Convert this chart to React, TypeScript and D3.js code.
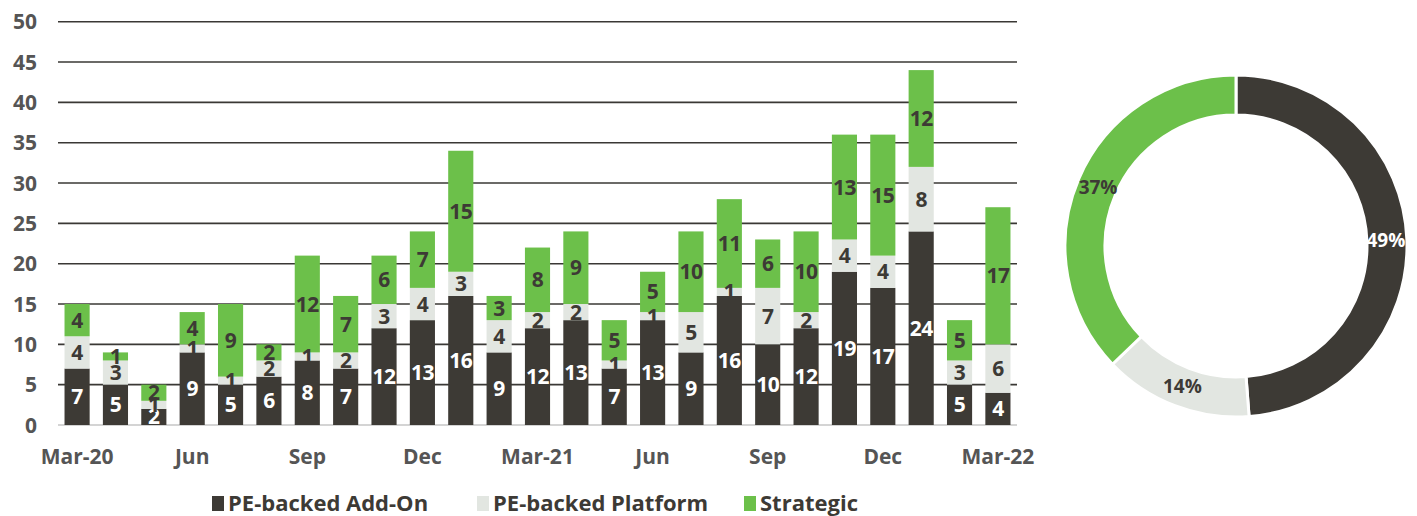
import React from "react";
import * as d3 from "d3";

const months = [
  "Mar-20","Apr-20","May-20","Jun-20","Jul-20","Aug-20","Sep-20","Oct-20","Nov-20","Dec-20","Jan-21","Feb-21",
  "Mar-21","Apr-21","May-21","Jun-21","Jul-21","Aug-21","Sep-21","Oct-21","Nov-21","Dec-21","Jan-22","Feb-22","Mar-22",
];
const tickLabels: Record<string, string> = {
  "Mar-20": "Mar-20", "Jun-20": "Jun", "Sep-20": "Sep", "Dec-20": "Dec",
  "Mar-21": "Mar-21", "Jun-21": "Jun", "Sep-21": "Sep", "Dec-21": "Dec", "Mar-22": "Mar-22",
};
const addOn = [7,5,2,9,5,6,8,7,12,13,16,9,12,13,7,13,9,16,10,12,19,17,24,5,4];
const platform = [4,3,1,1,1,2,1,2,3,4,3,4,2,2,1,1,5,1,7,2,4,4,8,3,6];
const strategic = [4,1,2,4,9,2,12,7,6,7,15,3,8,9,5,5,10,11,6,10,13,15,12,5,17];
const seriesNames = ["PE-backed Add-On", "PE-backed Platform", "Strategic"];
const colors = ["#3d3a35", "#e2e6e1", "#6cc04a"];
const labelColors = ["#ffffff", "#3d3a35", "#3d3a35"];
const yTicks = [0, 5, 10, 15, 20, 25, 30, 35, 40, 45, 50];

const FONT = "'Open Sans', 'DejaVu Sans', sans-serif";

export default function App() {
  const W = 1417, H = 516;
  const x0 = 58, x1 = 1017, yTop = 21.7, yBot = 425;
  const x = d3.scaleBand<string>().domain(months).range([x0, x1]).paddingInner(0.345).paddingOuter(0.17);
  const y = d3.scaleLinear().domain([0, 50]).range([yBot, yTop]);

  const rows = months.map((m, i) => ({ month: m, a: addOn[i], p: platform[i], s: strategic[i] }));
  const stack = d3.stack<any>().keys(["a", "p", "s"])(rows);

  const totals = [d3.sum(addOn), d3.sum(platform), d3.sum(strategic)];
  const grand = d3.sum(totals);
  const pie = d3.pie<number>().sort(null).value((d) => d)(totals);
  const cx = 1236, cy = 246, rOut = 171, rIn = 131;
  const arc = d3.arc<any>().innerRadius(rIn).outerRadius(rOut);
  const labelArc = d3.arc<any>().innerRadius(150).outerRadius(150);

  const legendX = [212, 477, 744];

  return (
    <div style={{ position: "fixed", left: 0, top: 0 }}>
      <svg width={W} height={H} style={{ display: "block", background: "#fff" }} fontFamily={FONT}>
        {yTicks.filter((t) => t > 0).map((t) => (
          <line key={t} x1={x0} x2={x1} y1={y(t)} y2={y(t)} stroke="#3a3835" strokeWidth={1.6} />
        ))}
        <line x1={x0} x2={x1} y1={y(0)} y2={y(0)} stroke="#d4d4d4" strokeWidth={2} />
        {yTicks.map((t) => (
          <text key={t} x={37} y={y(t)} dy="0.36em" textAnchor="end" fontSize={21} fontWeight={700} fill="#555">
            {t}
          </text>
        ))}
        {stack.map((layer, li) => (
          <g key={li}>
            {layer.map((d: any, i: number) => (
              <rect key={i} x={x(months[i])} width={x.bandwidth()} y={y(d[1])} height={y(d[0]) - y(d[1])} fill={colors[li]} />
            ))}
          </g>
        ))}
        {stack.map((layer, li) => (
          <g key={"l" + li}>
            {layer.map((d: any, i: number) => {
              const v = d[1] - d[0];
              return (
                <text key={i} x={(x(months[i]) as number) + x.bandwidth() / 2} y={y((d[0] + d[1]) / 2)} dy="0.36em"
                  textAnchor="middle" fontSize={21} fontWeight={700} fill={labelColors[li]} letterSpacing={-0.5}>
                  {v}
                </text>
              );
            })}
          </g>
        ))}
        {months.filter((m) => tickLabels[m]).map((m) => (
          <text key={m} x={(x(m) as number) + x.bandwidth() / 2} y={456} dy="0.36em" textAnchor="middle" fontSize={21} fontWeight={700} fill="#555">
            {tickLabels[m]}
          </text>
        ))}
        {seriesNames.map((n, i) => (
          <g key={n}>
            <rect x={legendX[i]} y={496} width={12} height={15} fill={colors[i]} />
            <text x={legendX[i] + 16} y={503} dy="0.36em" fontSize={22} fontWeight={700} fill="#3d3a35">{n}</text>
          </g>
        ))}
        {pie.map((p, i) => (
          <path key={i} d={arc(p) as string} transform={`translate(${cx},${cy})`} fill={colors[i]} stroke="#fff" strokeWidth={3} />
        ))}
        {pie.map((p, i) => {
          const [lx, ly] = labelArc.centroid(p);
          return (
            <text key={"p" + i} x={cx + lx} y={cy + ly} dy="0.36em" textAnchor="middle" fontSize={19} fontWeight={700}
              fill={i === 0 ? "#ffffff" : "#3d3a35"}>
              {`${Math.round((totals[i] / grand) * 100)}%`}
            </text>
          );
        })}
      </svg>
    </div>
  );
}
